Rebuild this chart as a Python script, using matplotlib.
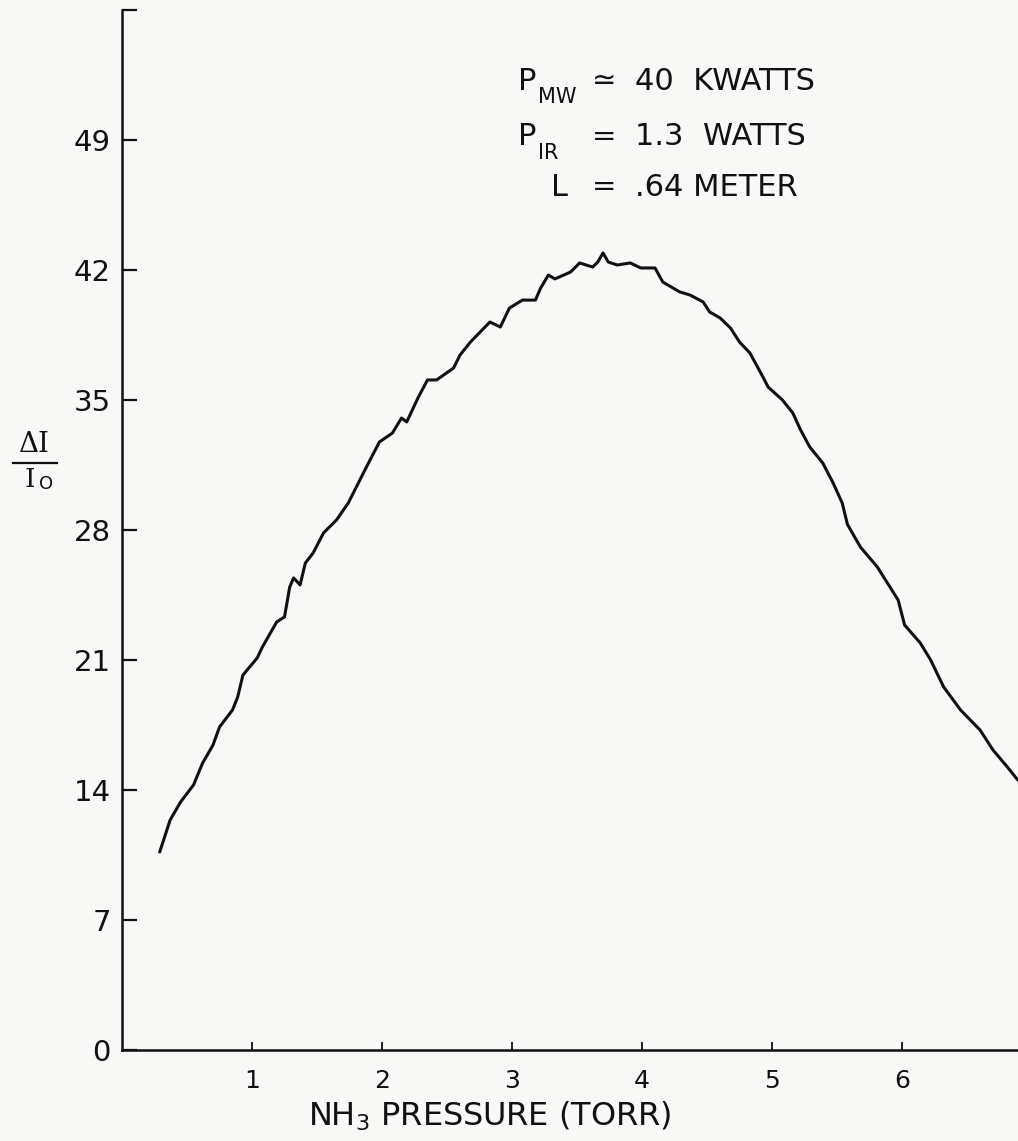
import numpy as np
import matplotlib
matplotlib.use('Agg')
import matplotlib.pyplot as plt
from matplotlib.lines import Line2D

# NH3 pressure (torr) and relative signal change dI/I0
pressure = [0.29, 0.37, 0.45, 0.55, 0.62, 0.70, 0.75, 0.85, 0.89, 0.93,
            1.04, 1.08, 1.19, 1.25, 1.29, 1.32, 1.37, 1.41, 1.47, 1.55,
            1.65, 1.74, 1.88, 1.98, 2.08, 2.15, 2.19, 2.28, 2.35, 2.42,
            2.55, 2.60, 2.68, 2.83, 2.91, 2.98, 3.08, 3.18, 3.22, 3.28,
            3.33, 3.45, 3.52, 3.62, 3.66, 3.70, 3.74, 3.81, 3.91, 3.99,
            4.10, 4.16, 4.29, 4.37, 4.47, 4.52, 4.60, 4.68, 4.75, 4.83,
            4.93, 4.97, 5.08, 5.16, 5.22, 5.29, 5.39, 5.47, 5.54, 5.58,
            5.68, 5.81, 5.97, 6.02, 6.14, 6.22, 6.32, 6.45, 6.60, 6.70,
            6.81, 6.89]
signal = [10.66, 12.38, 13.35, 14.27, 15.45, 16.42, 17.39, 18.31, 19.01, 20.19,
          21.11, 21.70, 23.05, 23.32, 24.93, 25.42, 25.04, 26.22, 26.76, 27.84,
          28.54, 29.45, 31.39, 32.74, 33.22, 34.03, 33.82, 35.16, 36.08, 36.08,
          36.72, 37.42, 38.12, 39.20, 38.93, 39.95, 40.38, 40.38, 41.03, 41.73,
          41.52, 41.89, 42.38, 42.16, 42.43, 42.92, 42.43, 42.27, 42.38, 42.11,
          42.11, 41.35, 40.82, 40.65, 40.28, 39.74, 39.42, 38.88, 38.12, 37.53,
          36.24, 35.70, 35.00, 34.30, 33.38, 32.47, 31.61, 30.53, 29.45, 28.30,
          27.08, 26.01, 24.23, 22.88, 21.92, 21.00, 19.55, 18.31, 17.23, 16.15,
          15.24, 14.54]

y_ticks = [0, 7, 14, 21, 28, 35, 42, 49, 56]
y_ticklabels = ['0', '7', '14', '21', '28', '35', '42', '49', '']
x_ticks = [1, 2, 3, 4, 5, 6]
x_ticklabels = ['1', '2', '3', '4', '5', '6']

paper = '#f8f8f6'
ink = '#111111'
plt.rcParams['font.family'] = ['DejaVu Sans']

fig = plt.figure(figsize=(10.18, 11.41), dpi=100, facecolor=paper)
ax = fig.add_axes([122 / 1018, 1 - 1050 / 1141, 1 - 122 / 1018, 1040 / 1141])
ax.set_facecolor(paper)

ax.plot(pressure, signal, color=ink, lw=2.2, solid_joinstyle='round',
        solid_capstyle='round')

ax.set_xlim(0, 6.892)
ax.set_ylim(0, 56)
for side in ['top', 'right']:
    ax.spines[side].set_visible(False)
for side in ['left', 'bottom']:
    ax.spines[side].set_linewidth(1.8)
    ax.spines[side].set_color(ink)

ax.set_yticks(y_ticks)
ax.set_yticklabels(y_ticklabels)
ax.set_xticks(x_ticks)
ax.set_xticklabels(x_ticklabels)
ax.tick_params(axis='y', direction='in', length=11, width=1.6, pad=8,
               labelsize=21, colors=ink)
ax.tick_params(axis='x', direction='in', length=6, width=1.3, pad=14,
               labelsize=18, colors=ink)

# axis titles
fig.text(490 / 1018, 1 - 1116 / 1141, 'NH$_3$ PRESSURE (TORR)', ha='center',
         va='center', fontsize=23, color=ink)

fig.text(34 / 1018, 1 - 445 / 1141, 'ΔI', ha='center', va='center',
         fontsize=20, color=ink, family='DejaVu Serif')
fig.add_artist(Line2D([13 / 1018, 57 / 1018], [1 - 463 / 1141, 1 - 463 / 1141],
                      transform=fig.transFigure, color=ink, lw=1.6))
fig.text(30 / 1018, 1 - 479 / 1141, 'I', ha='center', va='center',
         fontsize=19, color=ink, family='DejaVu Serif')
fig.text(46 / 1018, 1 - 484 / 1141, 'O', ha='center', va='center',
         fontsize=13, color=ink)

# run conditions
rows = [
    ('P', 'MW', '≃', '40  KWATTS', 81),
    ('P', 'IR', '=', '1.3  WATTS', 137),
    ('L', '', '=', '.64 METER', 187),
]
for sym, sub, rel, val, ypix in rows:
    y0 = 1 - ypix / 1141
    xs = 518 if sym == 'P' else 551
    fig.text(xs / 1018, y0, sym, ha='left', va='center', fontsize=22, color=ink)
    if sub:
        fig.text(538 / 1018, y0 - 16 / 1141, sub, ha='left', va='center',
                 fontsize=15, color=ink)
    fig.text(604 / 1018, y0, rel, ha='center', va='center', fontsize=21, color=ink)
    fig.text(635 / 1018, y0, val, ha='left', va='center', fontsize=22, color=ink)

fig.savefig('out.png', dpi=100, facecolor=paper)
